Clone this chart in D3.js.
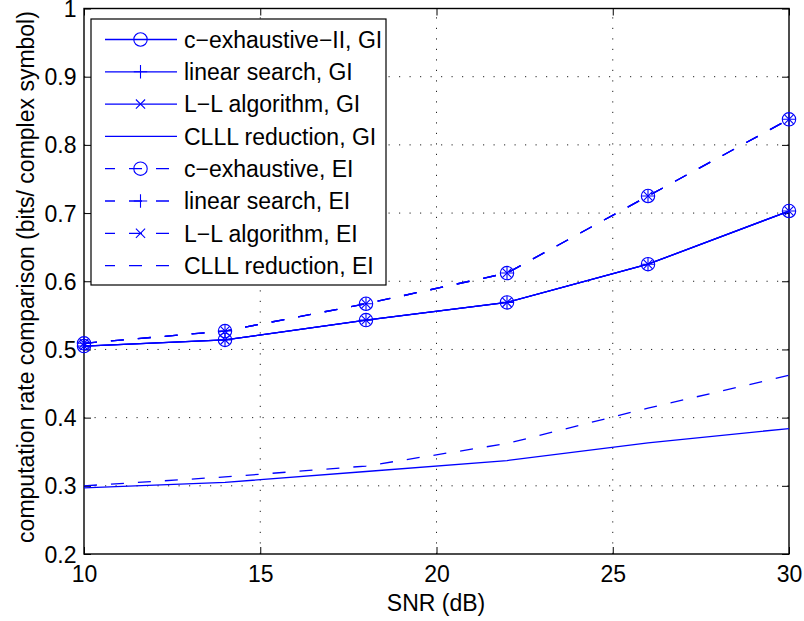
<!DOCTYPE html>
<html>
<head>
<meta charset="utf-8">
<script src="https://cdn.jsdelivr.net/npm/d3@7"></script>
<style>
  html, body { margin: 0; padding: 0; background: #fff; }
  svg { display: block; }
  text { font-family: "Liberation Sans", Arial, Helvetica, sans-serif; fill: #000; }
</style>
</head>
<body>
<svg id="chart" width="804" height="621"></svg>
<script>
// SNR sample points (dB)
const snr = [10, 14, 18, 22, 26, 30];

// Computation rate (bits / complex symbol), Gaussian integers
const cExhaustiveIIGI = [0.505, 0.514, 0.543, 0.569, 0.625, 0.703];
const linearSearchGI  = [0.505, 0.514, 0.543, 0.569, 0.625, 0.703];
const llAlgorithmGI   = [0.505, 0.514, 0.543, 0.569, 0.625, 0.703];
const clllGI          = [0.297, 0.305, 0.321, 0.337, 0.363, 0.384];

// Computation rate (bits / complex symbol), Eisenstein integers
const cExhaustiveEI   = [0.509, 0.527, 0.567, 0.612, 0.725, 0.8375];
const linearSearchEI  = [0.509, 0.527, 0.567, 0.612, 0.725, 0.8375];
const llAlgorithmEI   = [0.509, 0.527, 0.567, 0.612, 0.725, 0.8375];
const clllEI          = [0.300, 0.313, 0.329, 0.362, 0.414, 0.462];

// Axis ticks
const xTicks = [10, 15, 20, 25, 30];
const yTicks = [0.2, 0.3, 0.4, 0.5, 0.6, 0.7, 0.8, 0.9, 1];

const seriesNames = [
  "c\u2212exhaustive\u2212II, GI",
  "linear search, GI",
  "L\u2212L algorithm, GI",
  "CLLL reduction, GI",
  "c\u2212exhaustive, EI",
  "linear search, EI",
  "L\u2212L algorithm, EI",
  "CLLL reduction, EI"
];
const seriesValues = [cExhaustiveIIGI, linearSearchGI, llAlgorithmGI, clllGI,
                      cExhaustiveEI, linearSearchEI, llAlgorithmEI, clllEI];
const seriesMarkers = ["circle", "plus", "cross", null, "circle", "plus", "cross", null];
const seriesDashed  = [false, false, false, false, true, true, true, true];

const BLUE = "#0000ff";
const FONT = 23;
const DASH = "13,14";

const svg = d3.select("#chart");
const plotLeft = 84, plotRight = 789, plotTop = 8.5, plotBottom = 554;

const x = d3.scaleLinear().domain([10, 30]).range([plotLeft, plotRight]);
const y = d3.scaleLinear().domain([0.2, 1]).range([plotBottom, plotTop]);

svg.append("rect").attr("width", 804).attr("height", 621).attr("fill", "#fff");

// dotted grid
const grid = svg.append("g")
  .attr("stroke", "#222").attr("stroke-width", 1).attr("stroke-dasharray", "1.2,9.3");
grid.selectAll("line.gx").data(xTicks.slice(1, -1)).join("line")
  .attr("x1", d => x(d)).attr("x2", d => x(d)).attr("y1", plotBottom).attr("y2", plotTop);
grid.selectAll("line.gy").data(yTicks.slice(1, -1)).join("line")
  .attr("y1", d => y(d)).attr("y2", d => y(d)).attr("x1", plotLeft).attr("x2", plotRight);

// axes with inward ticks
const TICK = 7;
const fmtY = d => (d === 1 ? "1" : d3.format(".1f")(d));
const axBottom = svg.append("g").attr("transform", `translate(0,${plotBottom})`)
  .call(d3.axisBottom(x).tickValues(xTicks).tickSizeInner(-TICK).tickSizeOuter(0).tickPadding(12));
const axTop = svg.append("g").attr("transform", `translate(0,${plotTop})`)
  .call(d3.axisTop(x).tickValues(xTicks).tickSizeInner(-TICK).tickSizeOuter(0).tickFormat(""));
const axLeft = svg.append("g").attr("transform", `translate(${plotLeft},0)`)
  .call(d3.axisLeft(y).tickValues(yTicks).tickSizeInner(-TICK).tickSizeOuter(0).tickPadding(7.5).tickFormat(fmtY));
const axRight = svg.append("g").attr("transform", `translate(${plotRight},0)`)
  .call(d3.axisRight(y).tickValues(yTicks).tickSizeInner(-TICK).tickSizeOuter(0).tickFormat(""));

[axBottom, axTop, axLeft, axRight].forEach(g => {
  g.select(".domain").remove();
  g.selectAll(".tick line").attr("stroke", "#000").attr("stroke-width", 1);
  g.selectAll(".tick text").attr("font-size", FONT).attr("fill", "#000")
    .style("font-family", '"Liberation Sans", Arial, Helvetica, sans-serif');
});
axLeft.selectAll(".tick text").attr("dy", "0.35em");

// box
svg.append("rect")
  .attr("x", plotLeft).attr("y", plotTop).attr("width", plotRight - plotLeft).attr("height", plotBottom - plotTop)
  .attr("fill", "none").attr("stroke", "#000").attr("stroke-width", 1.4);

// series lines
const line = d3.line().x((d, i) => x(snr[i])).y(d => y(d));
const plot = svg.append("g");

function drawMarker(g, type, cx, cy) {
  if (type === "circle") {
    g.append("circle").attr("cx", cx).attr("cy", cy).attr("r", 6.7)
      .attr("fill", "none").attr("stroke", BLUE).attr("stroke-width", 1.1);
  } else if (type === "plus") {
    g.append("path").attr("d", `M${cx - 6.7},${cy}H${cx + 6.7}M${cx},${cy - 6.7}V${cy + 6.7}`)
      .attr("stroke", BLUE).attr("stroke-width", 1.1).attr("fill", "none");
  } else if (type === "cross") {
    const a = 4.6;
    g.append("path").attr("d", `M${cx - a},${cy - a}L${cx + a},${cy + a}M${cx - a},${cy + a}L${cx + a},${cy - a}`)
      .attr("stroke", BLUE).attr("stroke-width", 1.1).attr("fill", "none");
  }
}

seriesValues.forEach((vals, k) => {
  plot.append("path").datum(vals)
    .attr("d", line)
    .attr("fill", "none").attr("stroke", BLUE).attr("stroke-width", 1.3)
    .attr("stroke-dasharray", seriesDashed[k] ? DASH : null);
  if (seriesMarkers[k]) {
    vals.forEach((v, i) => drawMarker(plot, seriesMarkers[k], x(snr[i]), y(v)));
  }
});

// legend
const legX = 91, legY = 19, legW = 295, legH = 266;
const legend = svg.append("g");
legend.append("rect").attr("x", legX).attr("y", legY).attr("width", legW).attr("height", legH)
  .attr("fill", "#fff").attr("stroke", "#000").attr("stroke-width", 1.2);
seriesNames.forEach((name, k) => {
  const cy = 39.5 + k * 32.3;
  legend.append("line").attr("x1", 105).attr("x2", 177).attr("y1", cy).attr("y2", cy)
    .attr("stroke", BLUE).attr("stroke-width", 1.3)
    .attr("stroke-dasharray", seriesDashed[k] ? DASH : null)
    .attr("stroke-dashoffset", seriesDashed[k] ? 3 : null);
  if (seriesMarkers[k]) drawMarker(legend, seriesMarkers[k], 140.5, cy);
  legend.append("text").attr("x", 184).attr("y", cy + 8.2)
    .attr("font-size", FONT).text(name);
});

// axis labels
svg.append("text").attr("x", 436).attr("y", 611)
  .attr("text-anchor", "middle").attr("font-size", FONT).text("SNR (dB)");
svg.append("text")
  .attr("transform", "translate(33.5,277) rotate(-90)")
  .attr("text-anchor", "middle").attr("font-size", FONT)
  .text("computation rate comparison (bits/ complex symbol)");
</script>
</body>
</html>
